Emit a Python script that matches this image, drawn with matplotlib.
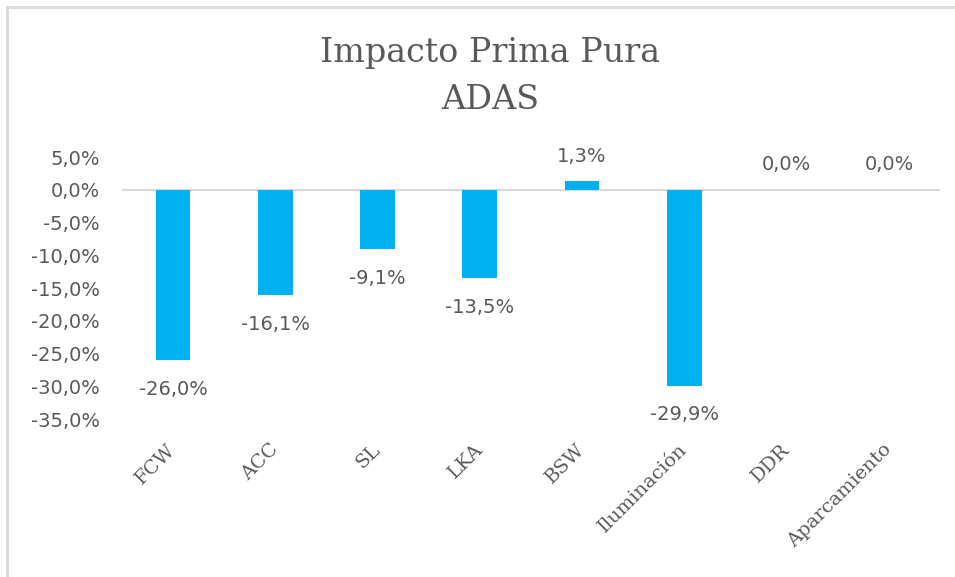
import matplotlib
matplotlib.use("Agg")
import matplotlib.pyplot as plt
from matplotlib.lines import Line2D
from matplotlib.ticker import FuncFormatter

# data
categories = ["FCW", "ACC", "SL", "LKA", "BSW", "Iluminación", "DDR", "Aparcamiento"]
impacto = [-0.260, -0.161, -0.091, -0.135, 0.013, -0.299, 0.0, 0.0]
title_lines = ["Impacto Prima Pura", "ADAS"]

bar_color = "#00B0F0"
txt_color = "#595959"
serif = "DejaVu Serif"
sans = "DejaVu Sans"


def pct(v, pos=None):
    return f"{v*100:.1f}%".replace(".", ",")


fig = plt.figure(figsize=(9.55, 5.77), dpi=100)
ax = fig.add_axes([0.1277, 0.2738, 0.8566, 0.4541])

x = range(len(categories))
ax.bar(x, impacto, width=0.34, color=bar_color, zorder=2)
ax.axhline(0, color="#d9d9d9", lw=1.5, zorder=1)

ax.set_xlim(-0.5, len(categories) - 0.5)
ax.set_ylim(-0.35, 0.05)
ax.set_yticks([0.05 - 0.05 * i for i in range(9)])
ax.yaxis.set_major_formatter(FuncFormatter(pct))
ax.tick_params(axis="y", length=0, pad=16, labelsize=14, labelcolor=txt_color)
ax.tick_params(axis="x", length=0, pad=20)
for lbl in ax.get_yticklabels():
    lbl.set_fontfamily(sans)

ax.set_xticks(list(x))
ax.set_xticklabels(categories, rotation=45, ha="right", va="center",
                   rotation_mode="anchor", fontsize=14, color=txt_color,
                   fontfamily=serif)

for s in ax.spines.values():
    s.set_visible(False)

# value labels
for i, v in enumerate(impacto):
    if v < 0:
        ax.annotate(pct(v), (i, v), xytext=(0, -14), textcoords="offset points",
                    ha="center", va="top", fontsize=14, color=txt_color,
                    fontfamily=sans)
    else:
        ax.annotate(pct(v), (i, v), xytext=(0, 11), textcoords="offset points",
                    ha="center", va="bottom", fontsize=14, color=txt_color,
                    fontfamily=sans)

# title
fig.text(0.513, 0.908, title_lines[0], ha="center", va="center", fontsize=24,
         color=txt_color, fontfamily=serif)
fig.text(0.513, 0.826, title_lines[1], ha="center", va="center", fontsize=24,
         color=txt_color, fontfamily=serif)

# chart frame (top and left edges only, rest is cropped)
fig.add_artist(Line2D([7/955, 1], [1 - 7/577, 1 - 7/577], color="#d9d9d9",
                      lw=2, transform=fig.transFigure))
fig.add_artist(Line2D([7/955, 7/955], [0, 1 - 7/577], color="#d9d9d9",
                      lw=2, transform=fig.transFigure))

fig.savefig("out.png", dpi=100)
